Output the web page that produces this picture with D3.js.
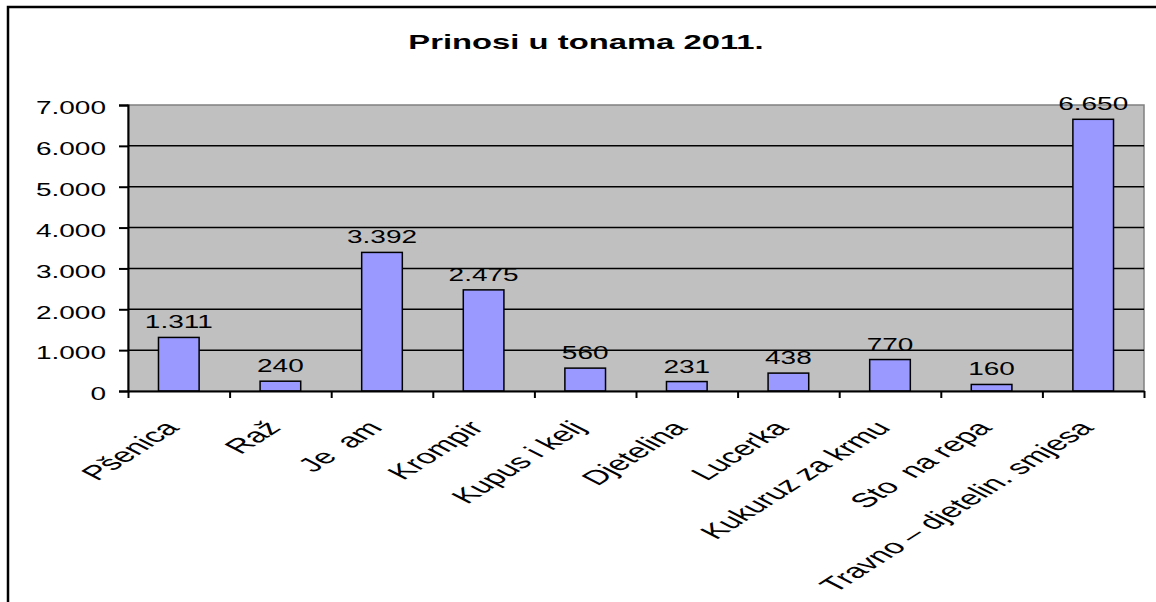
<!DOCTYPE html>
<html>
<head>
<meta charset="utf-8">
<script src="https://cdn.jsdelivr.net/npm/d3@7"></script>
<style>
  body { margin: 0; background: #fff; }
  svg { display: block; }
  text { font-family: "Liberation Sans", Arial, sans-serif; fill: #000; white-space: pre; }
</style>
</head>
<body>
<svg id="chart" width="1156" height="602"></svg>
<script>
// chart data
var chartTitle = "Prinosi u tonama 2011.";
var categories = ["Pšenica", "Raž", "Je  am", "Krompir", "Kupus i kelj", "Djetelina",
  "Lucerka", "Kukuruz za krmu", "Sto  na repa", "Travno – djetelin. smjesa"];
var yields = [1311, 240, 3392, 2475, 560, 231, 438, 770, 160, 6650];
var yTicks = [0, 1000, 2000, 3000, 4000, 5000, 6000, 7000];

// the picture is stretched sideways, so all text is too
var stretch = 1.6;
var labelStretch = 1.75;
var plot = { left: 128, top: 105, right: 1144, bottom: 391 };

var locale = d3.formatLocale({ decimal: ",", thousands: ".", grouping: [3], currency: ["", ""] });
var fmt = locale.format(",");

var svg = d3.select("#chart");

// outer frame (runs off the right and bottom of the picture)
svg.append("path")
  .attr("d", "M8,610V7H1160")
  .attr("fill", "none")
  .attr("stroke", "#000")
  .attr("stroke-width", 2.5);

svg.append("text")
  .attr("transform", "translate(586,49) scale(" + stretch + ",1)")
  .attr("text-anchor", "middle")
  .attr("font-size", "20.5px")
  .attr("font-weight", "bold")
  .text(chartTitle);

// scales
var x = d3.scaleBand()
  .domain(categories)
  .range([plot.left, plot.right])
  .paddingInner(0.6)
  .paddingOuter(0.3);
var edge = d3.scaleLinear()
  .domain([0, categories.length])
  .range([plot.left, plot.right]);
var y = d3.scaleLinear()
  .domain([0, 7000])
  .range([plot.bottom, plot.top]);

// plot area
svg.append("rect")
  .attr("x", plot.left)
  .attr("y", plot.top)
  .attr("width", plot.right - plot.left)
  .attr("height", plot.bottom - plot.top)
  .attr("fill", "#c0c0c0")
  .attr("stroke", "#808080")
  .attr("stroke-width", 1.5);

// gridlines
svg.append("g")
  .selectAll("line")
  .data(yTicks.filter(function(d) { return d > 0 && d < 7000; }))
  .enter().append("line")
  .attr("x1", plot.left)
  .attr("x2", plot.right)
  .attr("y1", function(d) { return y(d); })
  .attr("y2", function(d) { return y(d); })
  .attr("stroke", "#000")
  .attr("stroke-width", 1.5);

// bars
svg.append("g")
  .selectAll("rect")
  .data(yields)
  .enter().append("rect")
  .attr("x", function(d, i) { return x(categories[i]); })
  .attr("y", function(d) { return y(d); })
  .attr("width", x.bandwidth())
  .attr("height", function(d) { return y(0) - y(d); })
  .attr("fill", "#9999ff")
  .attr("stroke", "#000")
  .attr("stroke-width", 1.5);

// y axis
var yAxis = svg.append("g")
  .attr("transform", "translate(" + plot.left + ",0)")
  .call(d3.axisLeft(y).tickValues(yTicks).tickSize(9).tickPadding(0).tickFormat(fmt));
yAxis.select(".domain").attr("stroke-width", 2);
yAxis.selectAll(".tick line").attr("stroke-width", 2);
yAxis.selectAll(".tick text")
  .attr("x", null)
  .attr("dy", "0.5em")
  .attr("transform", "translate(-22,0) scale(" + stretch + ",1)")
  .attr("font-size", "17.5px")
  .attr("font-family", null);

// x axis: ticks between categories
var xAxis = svg.append("g")
  .attr("transform", "translate(0," + plot.bottom + ")")
  .call(d3.axisBottom(edge).ticks(categories.length).tickSize(7).tickSizeOuter(0).tickFormat(""));
xAxis.select(".domain").attr("stroke-width", 2);
xAxis.selectAll(".tick line").attr("stroke-width", 2);

// category labels
svg.append("g")
  .selectAll("text")
  .data(categories)
  .enter().append("text")
  .attr("transform", function(d) {
    return "translate(" + (x(d) + x.bandwidth() / 2 - 17) + ",419) scale(" + labelStretch + ",1) rotate(-48)";
  })
  .attr("text-anchor", "end")
  .attr("dy", "0.72em")
  .attr("font-size", "20px")
  .text(function(d) { return d; });

// value labels
svg.append("g")
  .selectAll("text")
  .data(yields)
  .enter().append("text")
  .attr("transform", function(d, i) {
    return "translate(" + (x(categories[i]) + x.bandwidth() / 2) + "," + (y(d) - 9) + ") scale(" + stretch + ",1)";
  })
  .attr("text-anchor", "middle")
  .attr("font-size", "17.5px")
  .text(function(d) { return fmt(d); });
</script>
</body>
</html>
